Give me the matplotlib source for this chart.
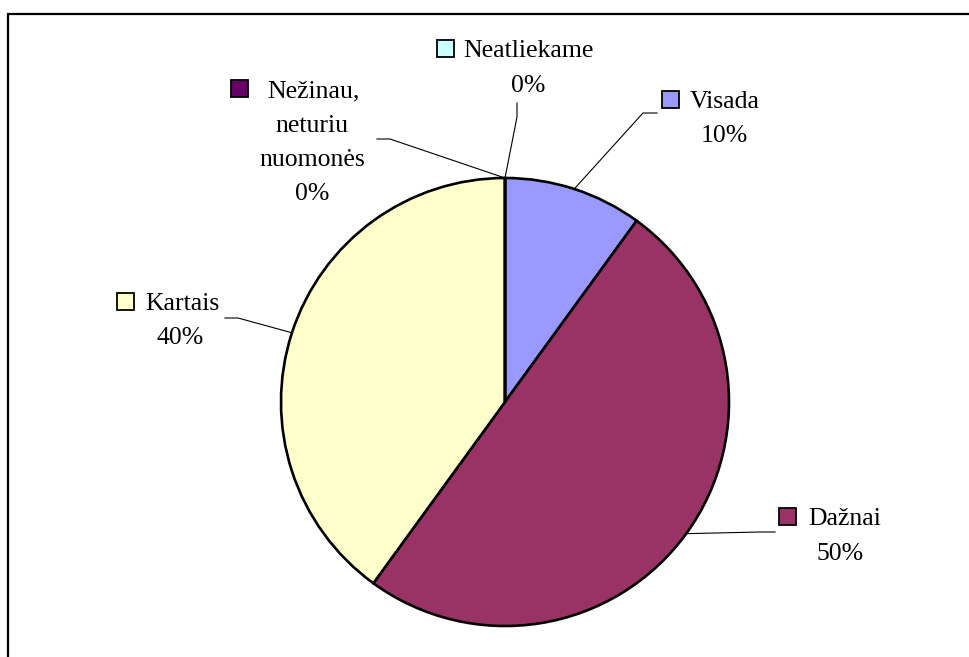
import numpy as np
import matplotlib.pyplot as plt
from matplotlib.patches import Rectangle

categories = ['Visada', 'Dažnai', 'Kartais', 'Nežinau,\nneturiu\nnuomonės', 'Neatliekame']
values = [10, 50, 40, 0, 0]
colors = ['#9999FF', '#993366', '#FFFFCC', '#660066', '#CCFFFF']

# label layout in pixels from the top-left: key box x, first baseline, name x, centre x of other lines
label_pos = [
    (662, 108, 690, 724),
    (779, 525, 808, 840),
    (117, 310, 145, 180),
    (231, 97, 267, 312),
    (437, 57, 463, 528),
]
# leader line: point next to label, then elbow
leader_pts = [
    ((657, 113), (643, 113)),
    ((775, 532), (760, 532)),
    ((225, 318), (238, 318)),
    ((377, 139), (390, 139)),
    ((517, 103), (517, 117)),
]

W, H = 970, 657
plt.rcParams['font.family'] = ['Liberation Serif', 'DejaVu Serif']


def flip(y):
    return H - y


fig = plt.figure(figsize=(9.7, 6.57), dpi=100)
ax = fig.add_axes([0, 0, 1, 1])

cx, cy, r = 505, flip(402), 224
wedges, _ = ax.pie(values, colors=colors, startangle=90, counterclock=False,
                   center=(cx, cy), radius=r,
                   wedgeprops=dict(edgecolor='black', linewidth=1.9))
ax.set_xlim(0, W)
ax.set_ylim(0, H)
ax.set_aspect('equal')
ax.axis('off')

# outer chart border (only top and left fall inside the image)
ax.add_patch(Rectangle((8, -20), 2000, flip(14) + 20, fill=False, ec='black', lw=1.6))

total = sum(values)
fs = 18.5
for i, (name, v) in enumerate(zip(categories, values)):
    sx, base, tx, mx = label_pos[i]
    lines = name.split('\n') + [f'{v / total * 100:.0f}%']
    ax.add_patch(Rectangle((sx, flip(base)), 17, 17, fc=colors[i], ec='black', lw=1.3))
    ax.text(tx, flip(base), lines[0], ha='left', va='baseline', fontsize=fs)
    for k, line in enumerate(lines[1:]):
        ax.text(mx, flip(base + 34.5 * (k + 1)), line, ha='center', va='baseline', fontsize=fs)

    # leader from label to the middle of the slice edge
    w = wedges[i]
    ang = np.deg2rad((w.theta1 + w.theta2) / 2)
    ex, ey = cx + r * np.cos(ang), cy + r * np.sin(ang)
    (x0, y0), (x1, y1) = leader_pts[i]
    ax.plot([x0, x1, ex], [flip(y0), flip(y1), ey], color='black', lw=0.8)

fig.savefig('out.png', dpi=100)
